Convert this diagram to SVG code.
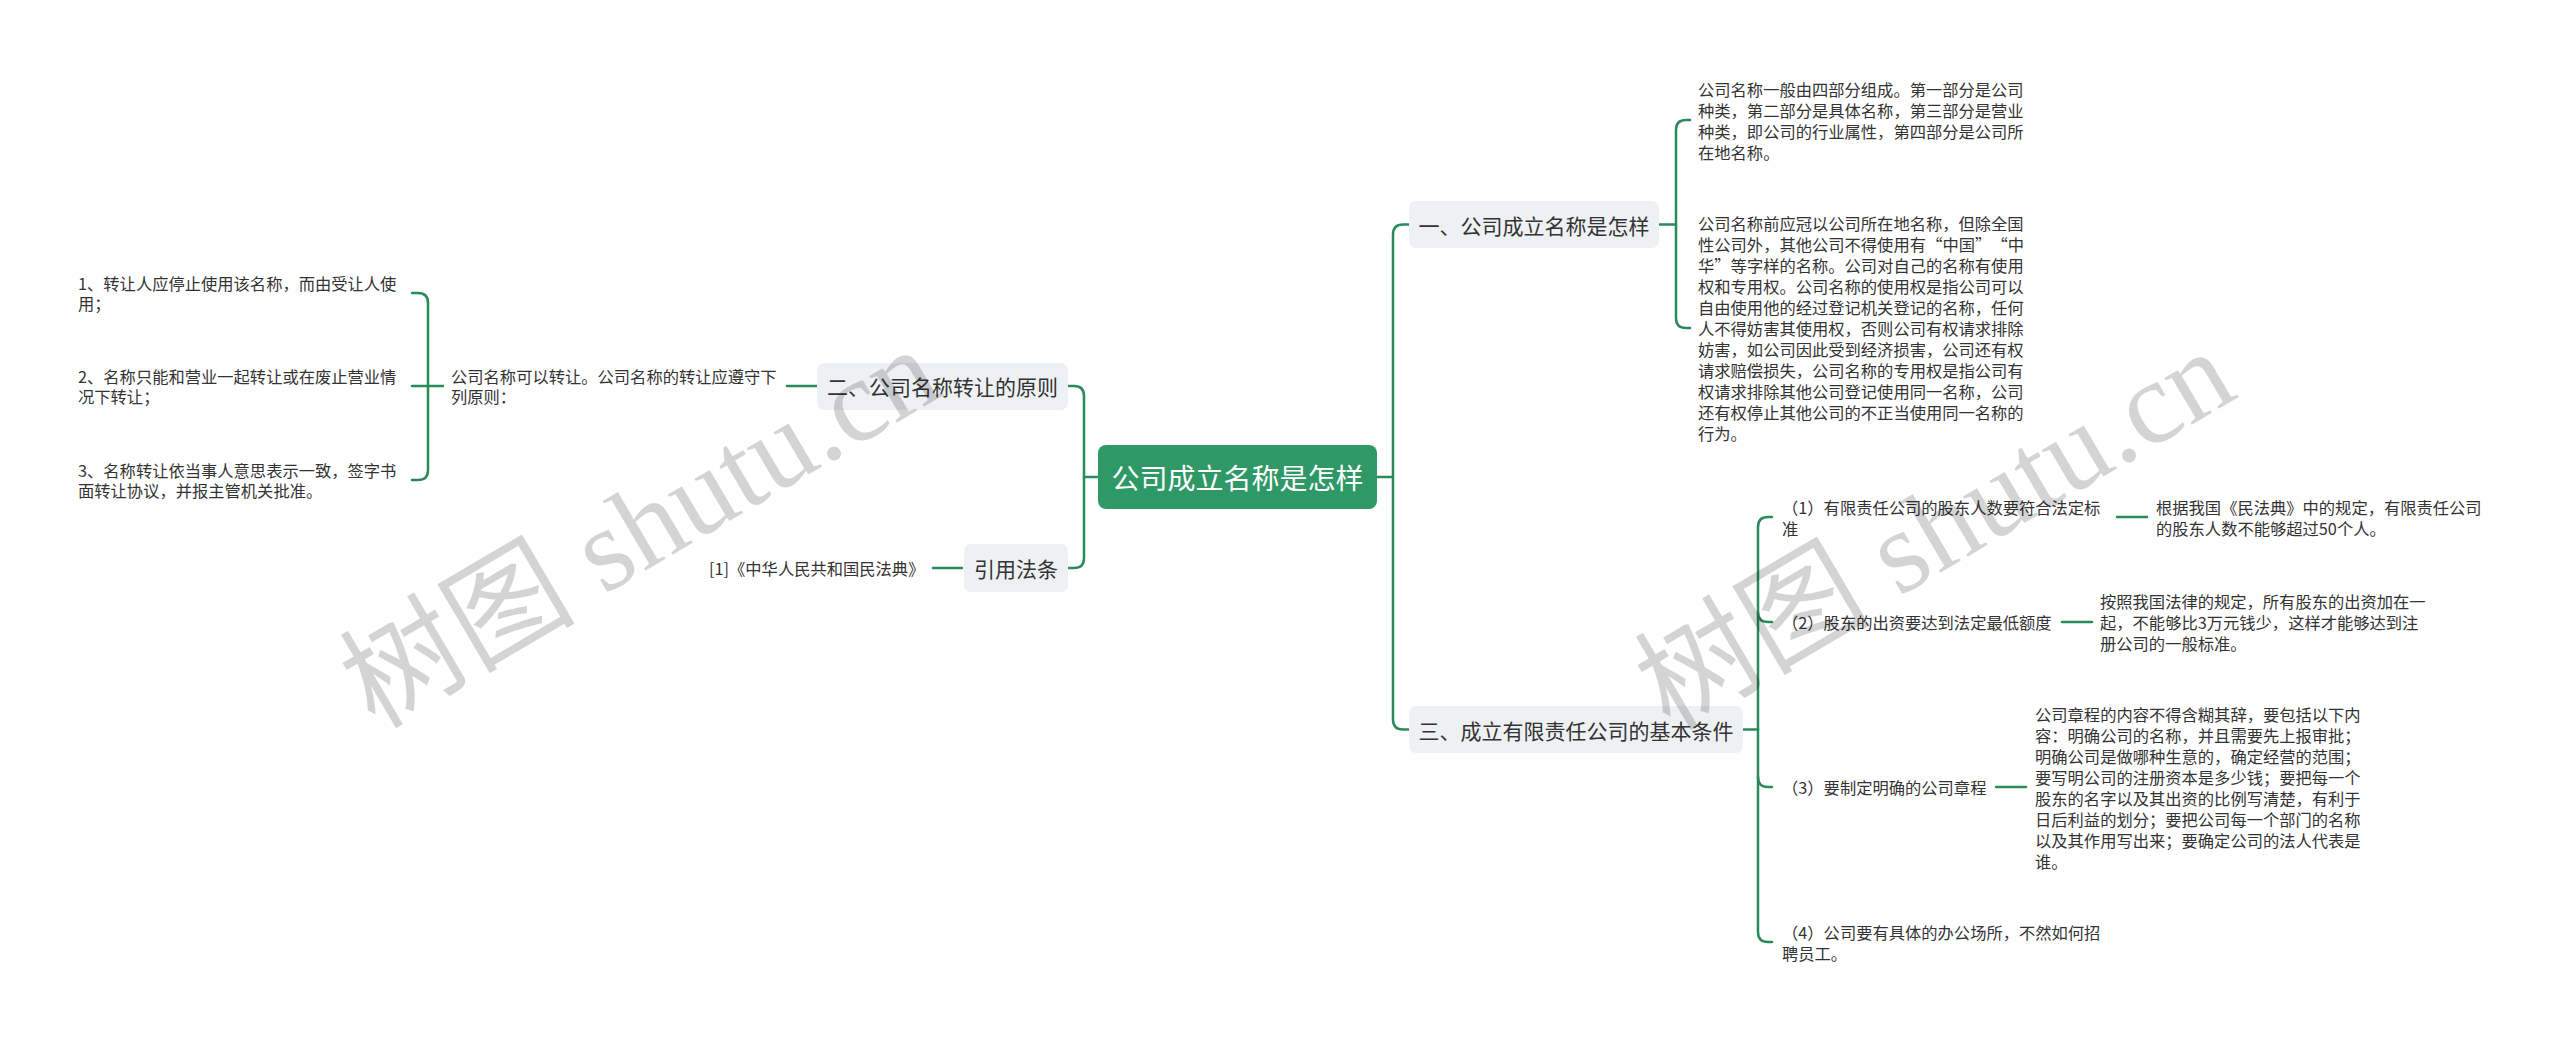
<svg xmlns="http://www.w3.org/2000/svg" width="2560" height="1042" viewBox="0 0 2560 1042">
<style>
.bg{fill:#ffffff}
.conn{fill:none;stroke:#2b8a5b;stroke-width:2.5;stroke-linecap:round}
.root{fill:#2e9866}
.rootText{font-family:"Noto Sans CJK SC","Liberation Sans",sans-serif;font-size:28px;fill:#ffffff;text-anchor:middle;dominant-baseline:central}
.box{fill:#eef1f4}
.boxText{font-family:"Noto Sans CJK SC","Liberation Sans",sans-serif;font-size:21px;fill:#333333;text-anchor:middle;dominant-baseline:central}
.leaf{font-family:"Noto Sans CJK SC","Liberation Sans",sans-serif;font-size:16.3px;fill:#333333;dominant-baseline:central}
.wm{font-family:"Liberation Serif","Noto Sans CJK SC",serif;font-size:118px;fill:#000000;fill-opacity:0.17;text-anchor:middle;dominant-baseline:central}
</style>
<rect class="bg" x="0" y="0" width="2560" height="1042"/>
<g id="connectors">
<path class="conn" d="M1377 477 H1393"/>
<path class="conn" d="M1409 224.5 H1403 Q1393 224.5 1393 234.5 V719.5 Q1393 729.5 1403 729.5 H1409"/>
<path class="conn" d="M1098 477 H1084"/>
<path class="conn" d="M1068 386 H1074 Q1084 386 1084 396 V558 Q1084 568 1074 568 H1068"/>
<path class="conn" d="M817 386 H787"/>
<path class="conn" d="M443 386 H412"/>
<path class="conn" d="M412 293 H418 Q428 293 428 303 V470 Q428 480 418 480 H412"/>
<path class="conn" d="M962 568 H933"/>
<path class="conn" d="M1659 224.5 H1676"/>
<path class="conn" d="M1690 120 H1686 Q1676 120 1676 130 V318 Q1676 328 1686 328 H1690"/>
<path class="conn" d="M1743 729.5 H1758"/>
<path class="conn" d="M1772 517 H1768 Q1758 517 1758 527 V932 Q1758 942 1768 942 H1772"/>
<path class="conn" d="M1758 612 Q1758 622 1768 622 H1772"/>
<path class="conn" d="M1758 777 Q1758 787 1768 787 H1772"/>
<path class="conn" d="M2117 517 H2147"/>
<path class="conn" d="M2062 622 H2092"/>
<path class="conn" d="M1996 787 H2026"/>
</g>
<g id="root">
<rect class="root" x="1098" y="445" width="279" height="64" rx="8"/>
<text class="rootText" x="1237.5" y="477">公司成立名称是怎样</text>
</g>
<g id="branch1">
<rect class="box" x="1409" y="201" width="250" height="47" rx="7"/>
<text class="boxText" x="1534" y="224.5">一、公司成立名称是怎样</text>
</g>
<g id="branch2">
<rect class="box" x="817" y="363" width="251" height="47" rx="7"/>
<text class="boxText" x="942.5" y="386">二、公司名称转让的原则</text>
</g>
<g id="branch3">
<rect class="box" x="1409" y="706" width="334" height="47" rx="7"/>
<text class="boxText" x="1576" y="729.5">三、成立有限责任公司的基本条件</text>
</g>
<g id="branch4">
<rect class="box" x="964" y="544" width="104" height="48" rx="7"/>
<text class="boxText" x="1016" y="568">引用法条</text>
</g>
<g id="b1-leaf1">
<text class="leaf" x="1698"><tspan x="1698" y="89">公司名称一般由四部分组成。第一部分是公司</tspan><tspan x="1698" y="110">种类，第二部分是具体名称，第三部分是营业</tspan><tspan x="1698" y="131">种类，即公司的行业属性，第四部分是公司所</tspan><tspan x="1698" y="152">在地名称。</tspan></text>
</g>
<g id="b1-leaf2">
<text class="leaf" x="1698"><tspan x="1698" y="223">公司名称前应冠以公司所在地名称，但除全国</tspan><tspan x="1698" y="244">性公司外，其他公司不得使用有</tspan><tspan x="1926.2" y="244">“</tspan><tspan x="1942.5" y="244">中国</tspan><tspan x="1975.1" y="244">”</tspan><tspan x="1991.4" y="244">“</tspan><tspan x="2007.7" y="244">中</tspan><tspan x="1698" y="265">华</tspan><tspan x="1714.3" y="265">”</tspan><tspan x="1730.6" y="265">等字样的名称。公司对自己的名称有使用</tspan><tspan x="1698" y="286">权和专用权。公司名称的使用权是指公司可以</tspan><tspan x="1698" y="307">自由使用他的经过登记机关登记的名称，任何</tspan><tspan x="1698" y="328">人不得妨害其使用权，否则公司有权请求排除</tspan><tspan x="1698" y="349">妨害，如公司因此受到经济损害，公司还有权</tspan><tspan x="1698" y="370">请求赔偿损失，公司名称的专用权是指公司有</tspan><tspan x="1698" y="391">权请求排除其他公司登记使用同一名称，公司</tspan><tspan x="1698" y="412">还有权停止其他公司的不正当使用同一名称的</tspan><tspan x="1698" y="433">行为。</tspan></text>
</g>
<g id="b2-parent">
<text class="leaf" x="451"><tspan x="451" y="376">公司名称可以转让。公司名称的转让应遵守下</tspan><tspan x="451" y="396">列原则：</tspan></text>
</g>
<g id="b2-leaf1">
<text class="leaf" x="78"><tspan x="78" y="283">1、转让人应停止使用该名称，而由受让人使</tspan><tspan x="78" y="303">用；</tspan></text>
</g>
<g id="b2-leaf2">
<text class="leaf" x="78"><tspan x="78" y="376">2、名称只能和营业一起转让或在废止营业情</tspan><tspan x="78" y="396">况下转让；</tspan></text>
</g>
<g id="b2-leaf3">
<text class="leaf" x="78"><tspan x="78" y="470">3、名称转让依当事人意思表示一致，签字书</tspan><tspan x="78" y="490">面转让协议，并报主管机关批准。</tspan></text>
</g>
<g id="b4-leaf">
<text class="leaf" x="709" y="568">[1]《中华人民共和国民法典》</text>
</g>
<g id="b3-c1">
<text class="leaf" x="1782"><tspan x="1782" y="506.5">（1）有限责任公司的股东人数要符合法定标</tspan><tspan x="1782" y="527.5">准</tspan></text>
</g>
<g id="b3-c1-leaf">
<text class="leaf" x="2156"><tspan x="2156" y="506.5">根据我国《民法典》中的规定，有限责任公司</tspan><tspan x="2156" y="527.5">的股东人数不能够超过50个人。</tspan></text>
</g>
<g id="b3-c2">
<text class="leaf" x="1782" y="622">（2）股东的出资要达到法定最低额度</text>
</g>
<g id="b3-c2-leaf">
<text class="leaf" x="2100"><tspan x="2100" y="601">按照我国法律的规定，所有股东的出资加在一</tspan><tspan x="2100" y="622">起，不能够比3万元钱少，这样才能够达到注</tspan><tspan x="2100" y="643">册公司的一般标准。</tspan></text>
</g>
<g id="b3-c3">
<text class="leaf" x="1782" y="787">（3）要制定明确的公司章程</text>
</g>
<g id="b3-c3-leaf">
<text class="leaf" x="2035"><tspan x="2035" y="714">公司章程的内容不得含糊其辞，要包括以下内</tspan><tspan x="2035" y="735">容：明确公司的名称，并且需要先上报审批；</tspan><tspan x="2035" y="756">明确公司是做哪种生意的，确定经营的范围；</tspan><tspan x="2035" y="777">要写明公司的注册资本是多少钱；要把每一个</tspan><tspan x="2035" y="798">股东的名字以及其出资的比例写清楚，有利于</tspan><tspan x="2035" y="819">日后利益的划分；要把公司每一个部门的名称</tspan><tspan x="2035" y="840">以及其作用写出来；要确定公司的法人代表是</tspan><tspan x="2035" y="861">谁。</tspan></text>
</g>
<g id="b3-c4">
<text class="leaf" x="1782"><tspan x="1782" y="932">（4）公司要有具体的办公场所，不然如何招</tspan><tspan x="1782" y="953">聘员工。</tspan></text>
</g>
<g id="watermark">
<text class="wm" x="640" y="528" transform="rotate(-30.5 640 528)">树图 shutu.cn</text>
<text class="wm" x="1935" y="530" transform="rotate(-30.5 1935 530)">树图 shutu.cn</text>
</g>
</svg>
